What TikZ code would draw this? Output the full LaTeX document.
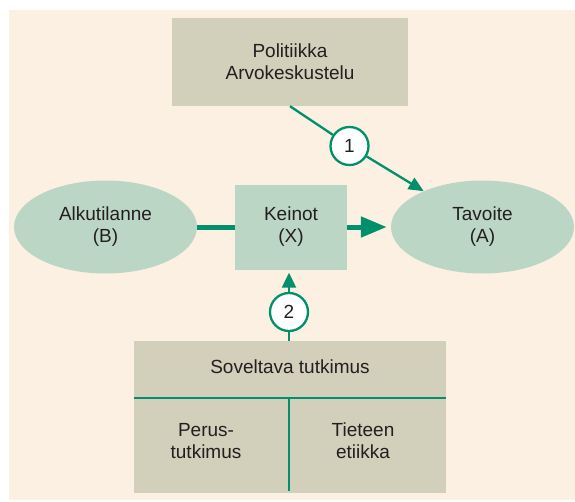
\documentclass[tikz,border=0pt]{standalone}
\usepackage{fontspec}
\setmainfont{Liberation Sans}
\usetikzlibrary{shapes.geometric,arrows.meta}

\definecolor{kerma}{HTML}{FCF0E2}
\definecolor{harmaa}{HTML}{D2CFBB}
\definecolor{minttu}{HTML}{BCD6C6}
\definecolor{vihrea}{HTML}{00916C}
\definecolor{muste}{HTML}{231F20}

\begin{document}
\begin{tikzpicture}[x=1pt,y=-1pt,
    every node/.style={font=\fontsize{19}{22}\selectfont,text=muste,align=center},
    laatikko/.style={rectangle,fill=harmaa,inner sep=0pt},
    soikio/.style={ellipse,fill=minttu,minimum width=183pt,minimum height=93pt,inner sep=0pt},
    pallo/.style={circle,draw=vihrea,line width=2.3pt,fill=white,minimum size=38pt,inner sep=0pt},
    viiva/.style={draw=vihrea,line width=2.3pt},
    paksu/.style={draw=vihrea,line width=5pt}]

            % Background
            \useasboundingbox (0,0) rectangle (575,501);
            \fill[kerma] (9,10) rectangle (575,500);

            % Boxes and ellipses
            \node[laatikko,minimum width=236pt,minimum height=88pt] (pol) at (290,62) {Politiikka\\Arvokeskustelu};
            \node[soikio] (alku) at (105.5,227) {Alkutilanne\\(B)};
            \node[rectangle,fill=minttu,inner sep=0pt,minimum width=112pt,minimum height=85pt] (keinot) at (291,227) {Keinot\\(X)};
            \node[soikio] (tavoite) at (482.5,227) {Tavoite\\(A)};

            % Research box at the bottom
            \node[laatikko,minimum width=312pt,minimum height=152pt] (sov) at (290,417) {};
            \node (sovteksti) at (290,367) {Soveltava tutkimus};
            \node (perus) at (206,441) {Perus-\\tutkimus};
            \node (etiikka) at (363,441) {Tieteen\\etiikka};
            \coordinate (jako) at (289,398);
            \draw[viiva] (sov.west |- jako) -- (sov.east |- jako);
            \draw[viiva] (jako) -- ([yshift=2pt]jako |- sov.south);

            % Numbered circles
            \node[pallo] (c1) at (349.5,146) {1};
            \node[pallo] (c2) at (289,312) {2};

            % Connectors
            \draw[paksu] (alku.east) -- (keinot.west);
            \draw[paksu,-{Triangle[length=26pt,width=20pt]},shorten >=4pt] (keinot.east) -- (tavoite.west);
            \draw[viiva] (pol.south) -- (c1);
            \draw[viiva,-{Triangle[length=15pt,width=13pt]}] (c1) -- (tavoite);
            \draw[viiva] (sov.north -| c2) -- (c2);
            \draw[viiva,-{Triangle[length=15pt,width=14pt]},shorten >=3pt] (c2) -- (keinot.south -| c2);

\end{tikzpicture}
\end{document}
